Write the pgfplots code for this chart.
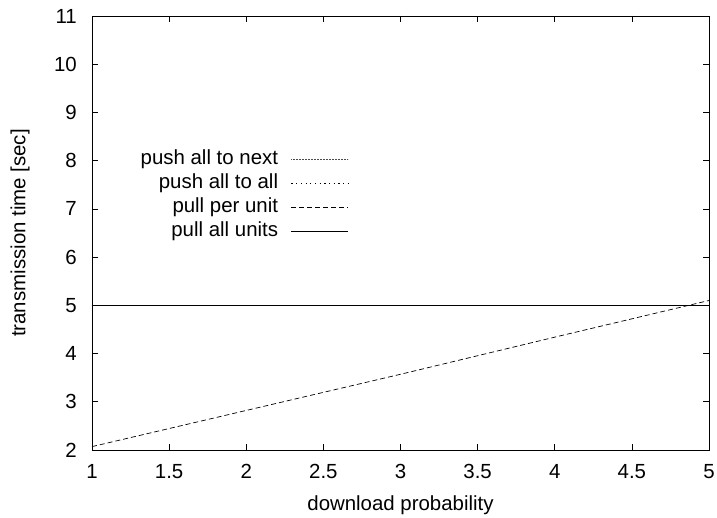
\documentclass[border=0pt]{standalone}
\usepackage{fontspec}
\setmainfont{Liberation Sans}
\usepackage{pgfplots}
\pgfplotsset{compat=1.18}
\begin{document}
\fontsize{20.5}{24}\selectfont
\begin{tikzpicture}
\begin{axis}[
 scale only axis, width=617bp, height=434bp,
 xmin=1, xmax=5, ymin=2, ymax=11,
 xtick={1,1.5,2,2.5,3,3.5,4,4.5,5}, ytick={2,3,4,5,6,7,8,9,10,11},
 tick align=inside, tick pos=both,
 major tick length=6bp,
 /pgf/number format/assume math mode=true,
 ticklabel style={font=\fontsize{20.5}{24}\selectfont},
 label style={font=\fontsize{20.5}{24}\selectfont},
 xticklabel style={anchor=base, yshift=-29bp},
 yticklabel style={anchor=east, inner sep=0pt, xshift=-15bp},
 xlabel={download probability}, ylabel={transmission time [sec]},
 xlabel style={at={(rel axis cs:0.5,0)}, anchor=base, yshift=-61bp},
 ylabel style={at={(rel axis cs:0,0.5)}, anchor=center, yshift=72bp},
 legend style={draw=none, fill=none, at={(0.4165,0.696)}, anchor=north east, cells={anchor=east}, font=\fontsize{20.5}{24}\selectfont, row sep=2.1bp, column sep=11bp, inner sep=0pt},
 legend plot pos=right,
 legend image code/.code={\draw[#1] (0bp,0bp) -- (57bp,0bp);},
 every axis plot/.append style={black, line width=0.7bp},
 axis line style={line width=0.9bp},
 every tick/.style={black, line width=0.6bp},
]
\addplot[dash pattern=on 0.6bp off 0.9bp, black!70] coordinates {(1,5) (5,5)};
\addlegendentry{push all to next}
\addplot[dash pattern=on 1.2bp off 3.5bp] coordinates {(1,5) (5,5)};
\addlegendentry{push all to all}
\addplot[dash pattern=on 5bp off 3bp] coordinates {(1,2.07) (2,2.82) (3,3.57) (4,4.34) (5,5.10)};
\addlegendentry{pull per unit}
\addplot[solid] coordinates {(1,5) (5,5)};
\addlegendentry{pull all units}
\end{axis}
\pgfresetboundingbox
\path (current axis.south west) ++(-92bp,-68bp) rectangle ([shift={(8bp,16bp)}]current axis.north east);
\end{tikzpicture}
\end{document}
